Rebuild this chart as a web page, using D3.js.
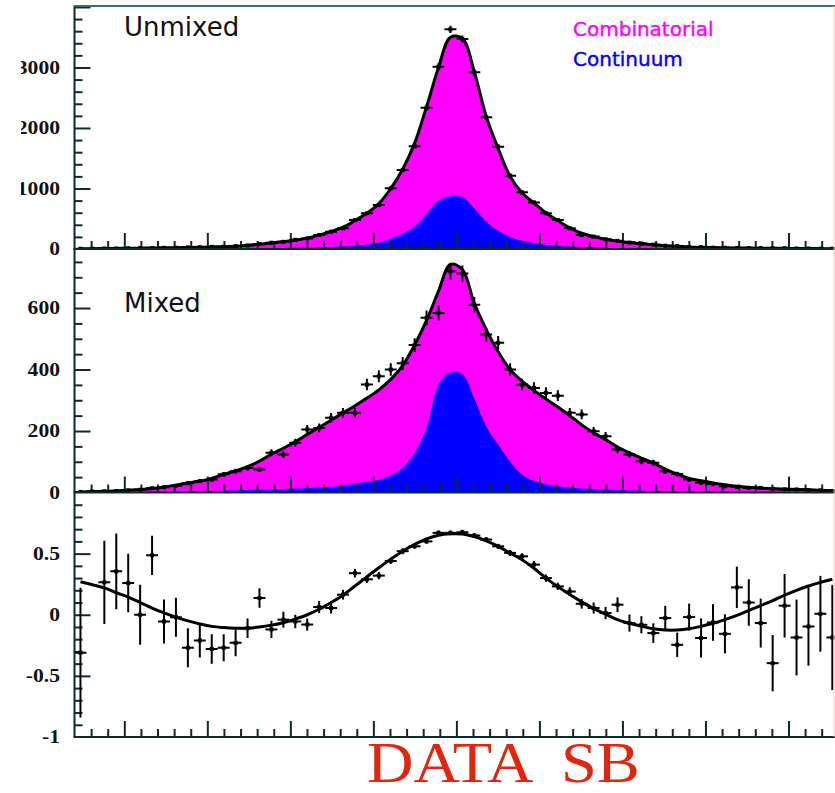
<!DOCTYPE html>
<html>
<head>
<meta charset="utf-8">
<script src="https://cdn.jsdelivr.net/npm/d3@7"></script>
<style>
  html, body { margin: 0; padding: 0; background: #fff; }
  svg { display: block; }
</style>
</head>
<body>
<svg id="chart" width="835" height="793"></svg>
<script>
// x axis runs over [-2.3, 2.3] in 64 bins, no tick labels
var xLo = -2.3, xHi = 2.3, nBins = 64;

// Unmixed panel (events per bin)
var unmixedData = [4,6,9,8,12,15,14,20,21,27, 29,35,37,48,58,82,104,118,152,175,
  231,286,342,479,590,727,1003,1306,1700,2335, 3013,3630,3470,2920,2177,1690,1211,937,770,590,
  479,342,231,205,160,135,106,90,72,54, 47,33,29,22,21,17,15,14,11,12, 8,8,6,5];
var unmixedErr = [2,2.5,3,3,3.5,4,4,4.5,4.6,5.2, 5.4,5.9,6.1,6.9,7.6,9,10,11,12,13,
  15,17,18.5,22,24,27,32,36,41,48, 55,60,59,54,47,41,35,31,28,24,
  22,18.5,15,14,13,11.6,10.3,9.5,8.5,7.3, 6.9,5.7,5.4,4.7,4.6,4.1,3.9,3.7,3.3,3.5, 2.8,2.8,2.4,2.2];
var unmixedFit = [5,6,8,10,12,14,16,19,22,26, 30,34,38,46,60,80,100,120,145,180,
  230,290,360,470,590,750,1000,1320,1750,2350, 3000,3500,3480,2930,2190,1660,1200,930,760,600,
  470,350,260,205,162,130,108,88,70,55, 45,34,28,24,21,18,16,14,12,11, 9,8,6,5];
var unmixedCont = [2,2,3,3,3,4,4,5,5,6, 7,8,9,10,12,14,16,18,20,22,
  26,32,40,55,75,105,170,250,370,580, 800,875,860,670,451,300,200,135,95,70,
  55,42,35,28,22,18,15,12,10,9, 8,7,6,5,5,4,4,3,3,3, 2,2,2,2];

// Mixed panel
var mixedData = [2,3,4,5,7,9,14,17,22,30, 37,42,59,69,80,75,129,124,162,205,
  210,243,259,259,351,378,400,420,480,568, 584,720,712,611,514,487,400,351,340,324,
  315,259,254,199,183,140,124,102,97,69, 60,42,32,28,20,18,15,15,12,10, 10,8,7,5];
var mixedErr = [1.4,1.7,2,2.2,2.6,3,3.7,4.1,4.7,5.5, 6,6.5,7.7,8.3,8.9,8.7,11.4,11.1,12.7,14.3,
  14.5,15.6,16.1,16.1,18.7,19.4,20,20.5,21.9,23.8, 24.2,26.8,26.7,24.7,22.7,22.1,20,18.7,18.4,18,
  17.7,16.1,15.9,14.1,13.5,11.8,11.1,10.1,9.8,8.3, 7.7,6.5,5.7,5.3,4.5,4.2,3.9,3.9,3.5,3.2, 3.2,2.8,2.6,2.2];
var mixedFit = [2,3,4,5,7,10,13,18,24,31, 37,46,59,70,84,102,125,144,165,189,
  212,235,259,282,307,334,368,413,480,560, 655,742,725,615,530,458,400,362,332,304,
  278,250,220,194,172,148,129,112,96,76, 60,46,38,31,25,20,17,14,12,11, 10,9,7,6];
var mixedCont = [1,1,1,2,2,2,3,3,4,4, 5,5,6,7,8,9,10,11,13,14,
  16,19,23,29,35,41,55,80,128,210, 350,392,385,305,215,155,100,58,38,26,
  20,16,13,11,10,8,7,6,5,5, 4,4,3,3,3,2,2,2,2,1, 1,1,1,1];

// Asymmetry panel
var asymData = [-0.31,null,0.265,0.355,0.26,0.0,0.486,-0.055,-0.02,-0.27,
  -0.21,-0.28,-0.27,-0.23,-0.11,0.137,-0.12,-0.04,-0.055,-0.08,
  0.063,0.055,0.164,0.34,0.29,0.32,0.44,0.52,0.56,0.60,
  0.67,0.67,0.675,0.648,0.615,0.56,0.506,0.478,0.41,0.30,
  0.232,0.19,0.09,0.055,0.014,0.082,-0.068,-0.082,-0.15,-0.027,
  -0.246,-0.019,-0.19,-0.063,-0.156,0.224,0.10,-0.068,-0.396,0.074,
  -0.186,-0.096,0.008,-0.186];
var asymErr = [0.53,null,0.34,0.31,0.24,0.245,0.16,0.18,0.16,0.16,
  0.14,0.12,0.11,0.11,0.08,0.08,0.07,0.065,0.055,0.05,
  0.05,0.045,0.04,0.035,0.03,0.03,0.025,0.025,0.02,0.02,
  0.02,0.02,0.02,0.02,0.02,0.02,0.025,0.025,0.03,0.03,
  0.03,0.035,0.04,0.045,0.05,0.06,0.07,0.07,0.08,0.1,
  0.1,0.11,0.16,0.15,0.16,0.17,0.19,0.2,0.23,0.26,
  0.31,0.32,0.31,0.43];
var asymFit = [0.27,0.245,0.22,0.18,0.145,0.1,0.055,0.015,-0.02,-0.05,
  -0.075,-0.095,-0.105,-0.11,-0.11,-0.1,-0.085,-0.065,-0.035,0.0,
  0.045,0.1,0.16,0.235,0.31,0.385,0.455,0.52,0.575,0.62,
  0.65,0.662,0.66,0.64,0.605,0.56,0.505,0.45,0.38,0.3,
  0.23,0.165,0.105,0.05,0.005,-0.04,-0.07,-0.095,-0.115,-0.125,
  -0.125,-0.115,-0.095,-0.07,-0.04,-0.005,0.035,0.075,0.115,0.16,
  0.2,0.235,0.265,0.29];

var topLabels = ['0', '1000', '2000', '3000'];
var midLabels = ['0', '200', '400', '600'];
var botLabels = ['-1', '-0.5', '0', '0.5'];

var MAGENTA = '#ff00ff', BLUE = '#0000ff', AXIS = '#0c2c2c';
var left = 74.5, right = 838.3;

var svg = d3.select('#chart');
var x = d3.scaleLinear().domain([xLo, xHi]).range([left, right]);
var binW = (xHi - xLo) / nBins;
var binCenters = d3.range(nBins).map(function(i) { return xLo + (i + 0.5) * binW; });
var smooth = d3.curveCatmullRom.alpha(0.5);

var panels = [
  {top: 6, bottom: 249, domain: [0, 4016], minorStep: 200, majorStep: 1000,
   data: unmixedData, err: unmixedErr, fit: unmixedFit, cont: unmixedCont,
   labels: topLabels, clipLabels: true, title: 'Unmixed', titleY: 36},
  {top: 249, bottom: 492.5, domain: [0, 792], minorStep: 50, majorStep: 200,
   data: mixedData, err: mixedErr, fit: mixedFit, cont: mixedCont,
   labels: midLabels, title: 'Mixed', titleY: 312},
  {top: 492.5, bottom: 737, domain: [-1, 1], minorStep: 0.1, majorStep: 0.5,
   data: asymData, err: asymErr, fit: asymFit, labels: botLabels}
];

var defs = svg.append('defs');
// the reference crops the first digit of the top panel labels
defs.append('clipPath').attr('id', 'labelClip')
  .append('rect').attr('x', 21).attr('y', 0).attr('width', 60).attr('height', 260);

function stepValues(lo, hi, step) {
  var n = Math.round((hi - lo) / step);
  return d3.range(n + 1).map(function(i) { return +(lo + i * step).toFixed(4); });
}

function styleAxis(sel) {
  sel.select('.domain').remove();
  sel.selectAll('.tick line').attr('stroke', AXIS).attr('stroke-width', 2);
}

panels.forEach(function(p, pi) {
  var y = d3.scaleLinear().domain(p.domain).range([p.bottom, p.top]);
  var g = svg.append('g').attr('class', 'panel-' + pi);

  var clipId = 'panelClip' + pi;
  defs.append('clipPath').attr('id', clipId)
    .append('rect').attr('x', left).attr('y', p.top)
    .attr('width', right - left).attr('height', p.bottom - p.top);

  // stacked fills: combinatorial fills up to the total fit, continuum on top of it
  if (p.cont) {
    var area = d3.area().curve(smooth)
      .x(function(d, i) { return x(binCenters[i]); })
      .y0(y(0))
      .y1(function(d) { return y(Math.max(0, d)); });
    var fills = g.append('g').attr('clip-path', 'url(#' + clipId + ')');
    fills.append('path').datum(p.fit).attr('d', area).attr('fill', MAGENTA);
    fills.append('path').datum(p.cont).attr('d', area).attr('fill', BLUE);
  }

  // left axis, ticks pointing inward
  var minorY = stepValues(p.domain[0], p.domain[1], p.minorStep)
    .filter(function(v) { return v > p.domain[0] && v < p.domain[1] && Math.abs(v / p.majorStep - Math.round(v / p.majorStep)) > 1e-6; });
  var majorY = stepValues(p.domain[0], p.domain[1], p.majorStep)
    .filter(function(v) { return v > p.domain[0] && v < p.domain[1]; });
  g.append('g').attr('transform', 'translate(' + left + ',0)')
    .call(d3.axisRight(y).tickValues(minorY).tickSize(8).tickFormat(''))
    .call(styleAxis);
  g.append('g').attr('transform', 'translate(' + left + ',0)')
    .call(d3.axisRight(y).tickValues(majorY).tickSize(16).tickFormat(''))
    .call(styleAxis);

  // bottom axis of the panel, ticks pointing up
  var minorX = d3.range(-22, 23).map(function(i) { return i / 10; })
    .filter(function(v) { return Math.abs(v * 2 - Math.round(v * 2)) > 1e-6; });
  var majorX = d3.range(-4, 5).map(function(i) { return i / 2; });
  g.append('g').attr('transform', 'translate(0,' + p.bottom + ')')
    .call(d3.axisTop(x).tickValues(minorX).tickSize(8).tickFormat(''))
    .call(styleAxis);
  g.append('g').attr('transform', 'translate(0,' + p.bottom + ')')
    .call(d3.axisTop(x).tickValues(majorX).tickSize(16).tickFormat(''))
    .call(styleAxis);

  // tick labels
  var labelVals = stepValues(p.domain[0], p.domain[0] + p.majorStep * (p.labels.length - 1), p.majorStep);
  var lg = g.append('g');
  if (p.clipLabels) lg.attr('clip-path', 'url(#labelClip)');
  lg.selectAll('text').data(p.labels).join('text')
    .attr('transform', function(d, i) { return 'translate(60,' + y(labelVals[i]) + ') scale(1.2,1)'; })
    .attr('dy', '0.35em')
    .attr('text-anchor', 'end')
    .attr('font-family', '"Liberation Serif", "DejaVu Serif", serif')
    .attr('font-weight', 'bold')
    .attr('font-size', 18)
    .attr('fill', '#111')
    .text(function(d) { return d; });

  // fit curve
  var line = d3.line().curve(smooth)
    .x(function(d, i) { return x(binCenters[i]); })
    .y(function(d) { return y(d); });
  var inner = g.append('g').attr('clip-path', 'url(#' + clipId + ')');
  inner.append('path').datum(p.fit).attr('d', line)
    .attr('fill', 'none').attr('stroke', '#000').attr('stroke-width', 3);

  // data points with error bars
  var pts = p.data.map(function(v, i) { return {v: v, e: p.err[i], c: binCenters[i]}; })
    .filter(function(d) { return d.v !== null; });
  var mk = inner.append('g').selectAll('g').data(pts).join('g');
  mk.append('line')
    .attr('x1', function(d) { return x(d.c - binW / 2); })
    .attr('x2', function(d) { return x(d.c + binW / 2); })
    .attr('y1', function(d) { return y(d.v); })
    .attr('y2', function(d) { return y(d.v); })
    .attr('stroke', '#000').attr('stroke-width', 2);
  mk.append('line')
    .attr('x1', function(d) { return x(d.c); })
    .attr('x2', function(d) { return x(d.c); })
    .attr('y1', function(d) { return y(d.v - d.e); })
    .attr('y2', function(d) { return y(d.v + d.e); })
    .attr('stroke', '#000').attr('stroke-width', 2);
  mk.append('rect')
    .attr('x', function(d) { return x(d.c) - 2; })
    .attr('y', function(d) { return y(d.v) - 2; })
    .attr('width', 4).attr('height', 4).attr('fill', '#000');

  if (p.title) {
    g.append('text').attr('x', 124).attr('y', p.titleY)
      .attr('font-family', '"DejaVu Sans", sans-serif').attr('font-size', 26)
      .attr('fill', '#111').text(p.title);
  }
});

// frame
var frame = svg.append('g').attr('stroke', AXIS).attr('stroke-width', 2);
frame.append('line').attr('x1', left).attr('x2', left).attr('y1', 6).attr('y2', 737);
[6, 249, 492.5, 737].forEach(function(yy, i) {
  frame.append('line').attr('x1', left - 1).attr('x2', 835).attr('y1', yy).attr('y2', yy)
    .attr('stroke', i === 0 ? '#3d6e6e' : AXIS);
});
// faint right edge as in the reference scan
svg.append('line').attr('x1', 834).attr('x2', 834).attr('y1', 6).attr('y2', 737)
  .attr('stroke', '#f2c4c4').attr('stroke-width', 1);

// legend
var legend = [
  {name: 'Combinatorial', color: MAGENTA},
  {name: 'Continuum', color: BLUE}
];
svg.append('g').selectAll('text').data(legend).join('text')
  .attr('x', 573).attr('y', function(d, i) { return 36 + i * 30; })
  .attr('font-family', '"DejaVu Sans", sans-serif').attr('font-size', 20)
  .attr('fill', function(d) { return d.color; })
  .attr('stroke', function(d) { return d.color; }).attr('stroke-width', 0.4)
  .text(function(d) { return d.name; });

// caption, glyphs slightly stretched horizontally like the reference
var caption = ['DATA', 'SB'];
var captionX = [367, 561];
svg.append('g').selectAll('text').data(caption).join('text')
  .attr('transform', function(d, i) { return 'translate(' + captionX[i] + ',782) scale(1.15,1)'; })
  .attr('font-family', '"Liberation Serif", "DejaVu Serif", serif').attr('font-size', 56)
  .attr('fill', '#e0260f')
  .text(function(d) { return d; });
</script>
</body>
</html>
